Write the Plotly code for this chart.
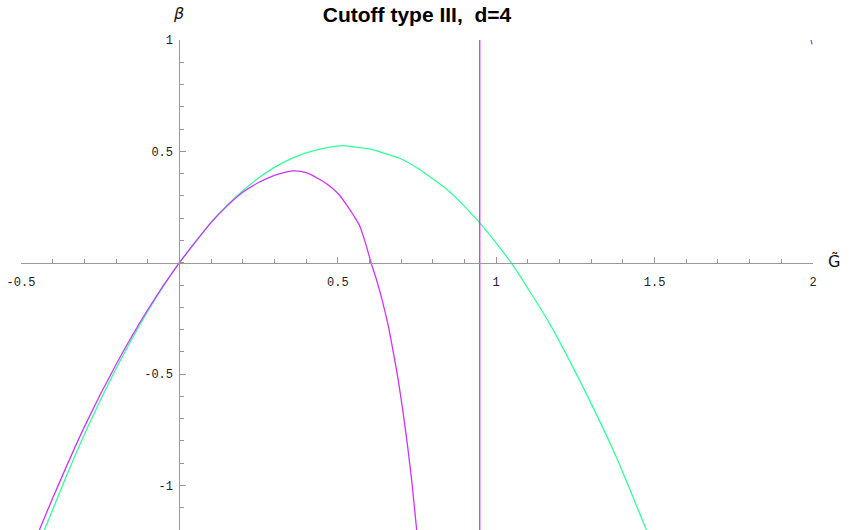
import plotly.graph_objects as go

# curves (piecewise, Mathematica-style sampling)
g_green = [-0.426, -0.35, -0.284, -0.189, -0.1, 0.0, 0.1, 0.15, 0.2, 0.25, 0.3, 0.35, 0.4, 0.45,
           0.516, 0.55, 0.6, 0.65, 0.695, 0.752, 0.853, 0.947, 1.047, 1.168, 1.263, 1.379, 1.474]
beta_green = [-1.2, -0.935, -0.722, -0.446, -0.219, 0.0, 0.181, 0.257, 0.323, 0.380, 0.428, 0.465,
              0.493, 0.512, 0.526, 0.520, 0.511, 0.490, 0.469, 0.424, 0.319, 0.181, 0.0, -0.272,
              -0.527, -0.872, -1.2]

g_magenta = [-0.442, -0.4, -0.3, -0.2, -0.1, 0.0, 0.1, 0.15, 0.2, 0.25, 0.3, 0.33, 0.358, 0.4,
             0.45, 0.48, 0.505, 0.53, 0.55, 0.568, 0.587, 0.605, 0.623, 0.64, 0.658, 0.674,
             0.69, 0.705, 0.72, 0.735, 0.749]
beta_magenta = [-1.2, -1.057, -0.737, -0.457, -0.211, 0.0, 0.180, 0.254, 0.316, 0.360, 0.392, 0.405,
                0.412, 0.405, 0.368, 0.338, 0.304, 0.255, 0.212, 0.169, 0.09, 0.0, -0.08, -0.168,
                -0.275, -0.392, -0.52, -0.662, -0.82, -1.0, -1.2]

# little branch re-entering at the top right corner
g_magenta_tail = [1.994, 1.997]
beta_magenta_tail = [1.0, 0.98]

g_pole = [0.948, 0.948]
beta_pole = [-1.2, 1.0]

x_ticks = [-0.5, 0.5, 1, 1.5, 2]
x_ticktext = ['-0.5', '0.5', '1', '1.5', '2']
y_ticks = [-1, -0.5, 0.5, 1]
y_ticktext = ['-1', '-0.5', '0.5', '1']

x_range = [-0.5, 2.0]
y_range = [-1.2, 1.0]

magenta = '#cc33ff'
green = '#33ff99'
axis_col = '#999999'
mono = 'Liberation Mono, Courier New, monospace'

fig = go.Figure()
fig.add_trace(go.Scatter(x=g_green, y=beta_green, mode='lines', line=dict(color=green, width=1.3, shape='spline', smoothing=0.6)))
fig.add_trace(go.Scatter(x=g_magenta, y=beta_magenta, mode='lines', line=dict(color=magenta, width=1.3, shape='spline', smoothing=0.6)))
fig.add_trace(go.Scatter(x=g_magenta_tail, y=beta_magenta_tail, mode='lines', line=dict(color=magenta, width=1.3)))
fig.add_trace(go.Scatter(x=g_pole, y=beta_pole, mode='lines', line=dict(color='#d62cff', width=1.3)))

# axes cross at the origin like the original
x0_frac = (0 - x_range[0]) / (x_range[1] - x_range[0])
y0_frac = (0 - y_range[0]) / (y_range[1] - y_range[0])

fig.update_xaxes(range=x_range, anchor='free', position=y0_frac, showgrid=False, zeroline=False,
                 showline=True, linecolor=axis_col, linewidth=1,
                 tickmode='array', tickvals=x_ticks, ticktext=x_ticktext,
                 ticks='inside', ticklen=6, tickcolor=axis_col, tickwidth=1,
                 minor=dict(dtick=0.1, tick0=0, ticks='inside', ticklen=4, tickcolor=axis_col, tickwidth=1),
                 tickfont=dict(family=mono, size=12, color='#222222'), ticklabelstandoff=8)
fig.update_yaxes(range=y_range, anchor='free', position=x0_frac, showgrid=False, zeroline=False,
                 showline=True, linecolor=axis_col, linewidth=1,
                 tickmode='array', tickvals=y_ticks, ticktext=y_ticktext,
                 ticks='inside', ticklen=6, tickcolor=axis_col, tickwidth=1,
                 minor=dict(dtick=0.1, tick0=0, ticks='inside', ticklen=4, tickcolor=axis_col, tickwidth=1),
                 tickfont=dict(family=mono, size=12, color='#222222'), ticklabelstandoff=4)

fig.add_annotation(x=0, xref='x', y=1.0, yref='paper', yshift=38, xshift=-1, text='<i>β</i>',
                   showarrow=False, font=dict(family='DejaVu Sans, sans-serif', size=16, color='#111111'))
fig.add_annotation(x=1.0, xref='paper', xshift=29, y=0, yref='y', yshift=1, text='G\u0303',
                   showarrow=False, font=dict(family='DejaVu Sans, sans-serif', size=16, color='#111111'))

fig.update_layout(width=857, height=530, showlegend=False,
                  margin=dict(l=21, r=44, t=40, b=0),
                  plot_bgcolor='white', paper_bgcolor='white',
                  title=dict(text='<b>Cutoff type III,\u00a0 d=4</b>', x=0.5, xref='paper',
                             y=1 - 15 / 530, yanchor='middle',
                             font=dict(family='Liberation Sans, Arial, sans-serif', size=21, color='#000000')))

# drop the default 8px body margin so the figure sits flush in the window
fig.write_html("out.html", config={'displayModeBar': False},
               post_script="document.body.style.margin='0px';")
